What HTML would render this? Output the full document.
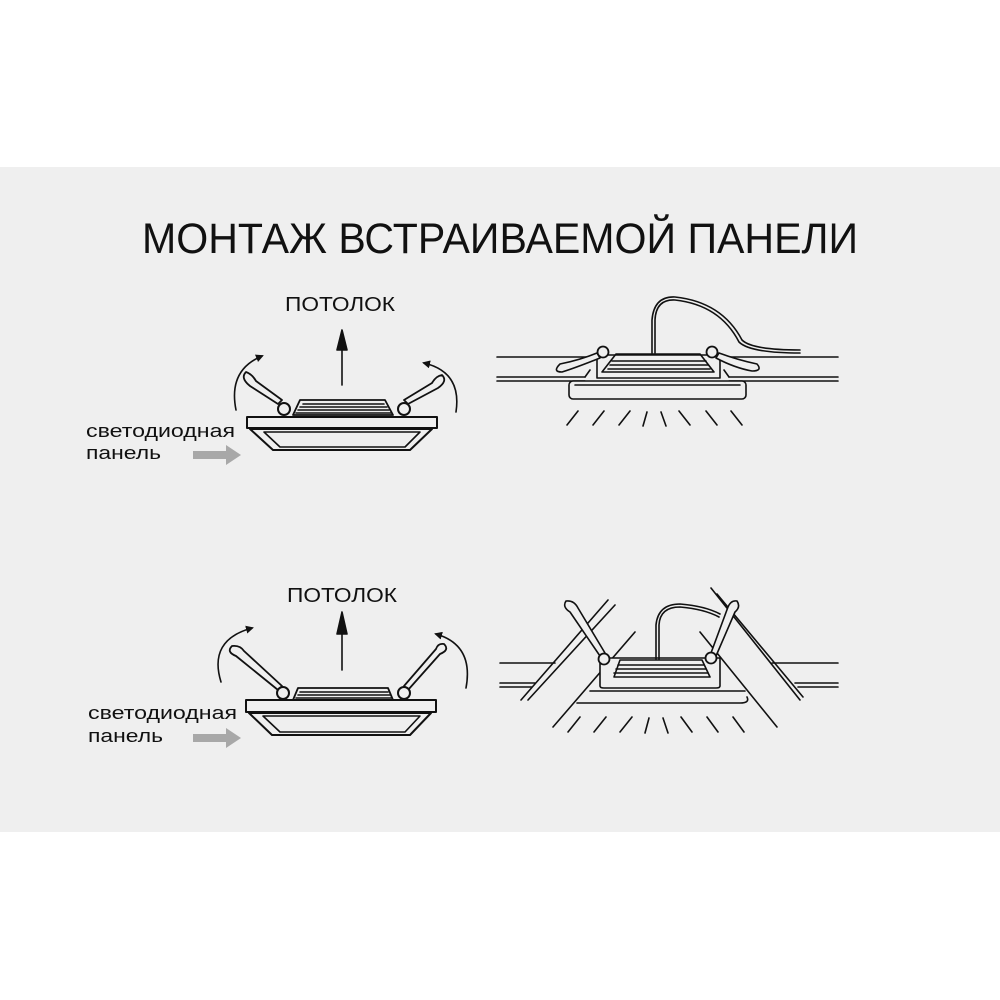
<!DOCTYPE html>
<html><head><meta charset="utf-8"><style>
html,body{margin:0;padding:0;background:#fff}
svg{display:block}
text{font-family:"Liberation Sans",sans-serif;fill:#111}
</style></head><body>
<svg width="1000" height="1000" viewBox="0 0 1000 1000" xmlns="http://www.w3.org/2000/svg">
<rect x="0" y="0" width="1000" height="1000" fill="#fff"/>
<rect x="0" y="167" width="1000" height="665" fill="#efefef"/>
<text x="142" y="253" font-size="43" textLength="716" lengthAdjust="spacingAndGlyphs">МОНТАЖ ВСТРАИВАЕМОЙ ПАНЕЛИ</text>

<defs>
<marker id="ah" markerWidth="8" markerHeight="8" refX="6" refY="4" orient="auto" markerUnits="userSpaceOnUse">
<path d="M0,0 L8,4 L0,8 Z" fill="#111"/></marker>
</defs>

<g fill="none" stroke="#111" stroke-width="1.6" stroke-linejoin="round" stroke-linecap="round">
<!-- ===== top-left ===== -->
<text x="285" y="311" font-size="20" stroke="none" textLength="110" lengthAdjust="spacingAndGlyphs">ПОТОЛОК</text>
<line x1="342" y1="385" x2="342" y2="348"/>
<path d="M342,330 L347,350 L337,350 Z" fill="#111"/>
<path d="M236,410 Q228,370 262,356" marker-end="url(#ah)"/>
<path d="M456,412 Q462,372 424,363" marker-end="url(#ah)"/>
<rect x="247" y="417" width="190" height="11" fill="#efefef" stroke-width="2"/>
<path d="M250,429 L432,429 L410,450 L273,450 Z" stroke-width="2"/>
<path d="M264,432 L420,432 L405,447 L280,447 Z"/>
<path d="M300,400 L385,400 L393,415 L293,415 Z" stroke-width="1.8"/>
<line x1="303" y1="404" x2="384" y2="404"/><line x1="300" y1="407" x2="387" y2="407"/><line x1="298" y1="410" x2="389" y2="410"/><line x1="296" y1="413" x2="391" y2="413"/>
<path d="M246,372 Q240,378 250,386 L278,404 L282,400 L256,381 Q252,374 246,372 Z" fill="#efefef" stroke-width="1.8"/>
<path d="M442,375 Q448,381 438,388 L408,404 L404,400 L432,383 Q436,376 442,375 Z" fill="#efefef" stroke-width="1.8"/>
<circle cx="284" cy="409" r="6" fill="#efefef" stroke-width="2"/>
<circle cx="404" cy="409" r="6" fill="#efefef" stroke-width="2"/>
<text x="86" y="437" font-size="18" stroke="none" textLength="149" lengthAdjust="spacingAndGlyphs">светодиодная</text>
<text x="86" y="459" font-size="18" stroke="none" textLength="75" lengthAdjust="spacingAndGlyphs">панель</text>
<path d="M193,451 L226,451 L226,445 L241,455 L226,465 L226,459 L193,459 Z" fill="#a8a8a8" stroke="none"/>

<!-- ===== top-right ===== -->
<line x1="497" y1="357" x2="598" y2="357"/><line x1="720" y1="357" x2="838" y2="357"/>
<line x1="497" y1="377" x2="585" y2="377"/><line x1="497" y1="381" x2="585" y2="381"/>
<line x1="729" y1="377" x2="838" y2="377"/><line x1="729" y1="381" x2="838" y2="381"/>
<path d="M585,377 L590,370 M729,377 L724,370"/>
<rect x="569" y="381" width="177" height="18" rx="4" fill="#efefef"/>
<line x1="575" y1="385" x2="740" y2="385"/>
<path d="M597,355 L720,355 L720,378 L597,378 Z" fill="#efefef"/>
<path d="M602,372 L616,354 L700,354 L714,372 Z"/>
<line x1="612" y1="361" x2="706" y2="361"/><line x1="610" y1="365" x2="708" y2="365"/><line x1="608" y1="369" x2="710" y2="369"/>
<path d="M652,353 L652,320 Q654,296 675,297 Q722,302 742,340 Q752,350 800,350"/>
<path d="M655,353 L655,320 Q656,299 675,300 Q720,305 739,342 Q750,353 800,353"/>
<path d="M560,364 Q552,372 562,372 Q575,368 600,358 L597,353 Q580,360 560,364 Z" fill="#efefef"/>
<path d="M757,364 Q763,371 752,371 Q735,368 716,358 L719,353 Q738,360 757,364 Z" fill="#efefef"/>
<circle cx="603" cy="352" r="5.5" fill="#efefef" stroke-width="1.8"/>
<circle cx="712" cy="352" r="5.5" fill="#efefef" stroke-width="1.8"/>
<path d="M567,425 L578,411 M593,425 L604,411 M619,425 L630,411 M643,426 L647,412 M666,426 L661,412 M690,425 L679,411 M717,425 L706,411 M742,425 L731,411"/>

<!-- ===== bottom-left ===== -->
<text x="287" y="602" font-size="20" stroke="none" textLength="110" lengthAdjust="spacingAndGlyphs">ПОТОЛОК</text>
<line x1="342" y1="670" x2="342" y2="632"/>
<path d="M342,612 L347,634 L337,634 Z" fill="#111"/>
<path d="M221,682 Q208,640 252,628" marker-end="url(#ah)"/>
<path d="M466,688 Q474,645 436,634" marker-end="url(#ah)"/>
<rect x="246" y="700" width="190" height="12" fill="#efefef" stroke-width="2"/>
<path d="M249,713 L431,713 L410,735 L272,735 Z" stroke-width="2"/>
<path d="M263,716 L420,716 L405,732 L280,732 Z"/>
<path d="M298,688 L388,688 L393,700 L293,700 Z" stroke-width="1.8"/>
<line x1="300" y1="692" x2="388" y2="692"/><line x1="298" y1="695" x2="390" y2="695"/><line x1="296" y1="698" x2="391" y2="698"/>
<path d="M232,646 Q226,652 236,656 L278,690 L282,686 L244,651 Q240,645 232,646 Z" fill="#efefef" stroke-width="1.8"/>
<path d="M444,644 Q450,650 440,654 L408,690 L404,686 L436,649 Q438,643 444,644 Z" fill="#efefef" stroke-width="1.8"/>
<circle cx="283" cy="693" r="6" fill="#efefef" stroke-width="2"/>
<circle cx="404" cy="693" r="6" fill="#efefef" stroke-width="2"/>
<text x="88" y="719" font-size="18" stroke="none" textLength="149" lengthAdjust="spacingAndGlyphs">светодиодная</text>
<text x="88" y="742" font-size="18" stroke="none" textLength="75" lengthAdjust="spacingAndGlyphs">панель</text>
<path d="M193,734 L226,734 L226,728 L241,738 L226,748 L226,742 L193,742 Z" fill="#a8a8a8" stroke="none"/>

<!-- ===== bottom-right ===== -->
<line x1="500" y1="663" x2="555" y2="663"/><line x1="772" y1="663" x2="838" y2="663"/>
<line x1="500" y1="683" x2="535" y2="683"/><line x1="500" y1="687" x2="532" y2="687"/>
<line x1="795" y1="683" x2="838" y2="683"/><line x1="798" y1="687" x2="838" y2="687"/>
<line x1="521" y1="700" x2="608" y2="600"/><line x1="528" y1="700" x2="615" y2="605"/>
<line x1="711" y1="588" x2="800" y2="700"/><line x1="717" y1="594" x2="803" y2="697"/>
<line x1="553" y1="727" x2="635" y2="632"/><line x1="700" y1="632" x2="777" y2="727"/>
<line x1="590" y1="691" x2="745" y2="691"/>
<path d="M577,703 L740,703 Q750,703 747,697"/>
<path d="M600,658 L720,658 L720,686 Q720,688 716,688 L604,688 Q600,688 600,686 Z" fill="#efefef"/>
<path d="M614,677 L620,660 L702,660 L710,677 Z"/>
<line x1="618" y1="665" x2="704" y2="665"/><line x1="616" y1="669" x2="706" y2="669"/><line x1="614" y1="673" x2="708" y2="673"/>
<path d="M656,659 L656,625 Q658,604 680,604 Q705,606 720,614"/>
<path d="M659,659 L659,625 Q660,607 680,607 Q704,609 719,617"/>
<path d="M566,601 Q562,607 570,612 L600,656 L605,653 L578,608 Q574,600 566,601 Z" fill="#efefef"/>
<path d="M737,601 Q741,607 735,612 L716,656 L711,653 L728,607 Q731,600 737,601 Z" fill="#efefef"/>
<circle cx="604" cy="659" r="5.5" fill="#efefef" stroke-width="1.8"/>
<circle cx="711" cy="658" r="5.5" fill="#efefef" stroke-width="1.8"/>
<path d="M568,732 L580,717 M594,732 L606,717 M620,732 L632,717 M645,733 L649,718 M668,733 L663,718 M692,732 L681,717 M718,732 L707,717 M744,732 L733,717"/>
</g>
</svg>
</body></html>
